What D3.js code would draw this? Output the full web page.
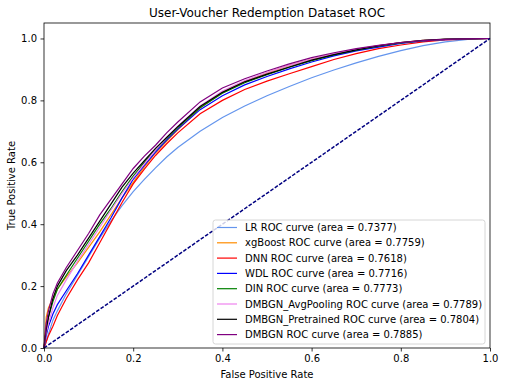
<!DOCTYPE html>
<html>
<head>
<meta charset="utf-8">
<script src="https://cdn.jsdelivr.net/npm/d3@7"></script>
<style>
  body { margin: 0; background: #fff; }
  svg text { font-family: "DejaVu Sans", sans-serif; fill: #000; }
</style>
</head>
<body>
<svg id="chart" width="505" height="387"></svg>
<script>
// false positive rate grid the curves were read at
const fprGrid = [0, 0.005, 0.01, 0.02, 0.03, 0.05, 0.075, 0.1, 0.125, 0.15, 0.175, 0.2, 0.225, 0.25, 0.275, 0.3,
  0.35, 0.4, 0.45, 0.5, 0.55, 0.6, 0.65, 0.7, 0.75, 0.8, 0.85, 0.9, 0.95, 1];

// true positive rates
const lrTpr = [0, 0.02, 0.045, 0.09, 0.12, 0.175, 0.235, 0.295, 0.355, 0.41, 0.46, 0.505, 0.545, 0.582, 0.617, 0.648,
  0.70, 0.745, 0.782, 0.815, 0.845, 0.873, 0.898, 0.921, 0.942, 0.961, 0.977, 0.989, 0.997, 1];
const xgbTpr = [0, 0.10, 0.13, 0.16, 0.19, 0.23, 0.275, 0.325, 0.375, 0.43, 0.485, 0.535, 0.585, 0.63, 0.668, 0.705,
  0.775, 0.826, 0.862, 0.889, 0.913, 0.933, 0.951, 0.965, 0.977, 0.987, 0.994, 0.997, 0.999, 1];
const dnnTpr = [0, 0.02, 0.04, 0.07, 0.105, 0.16, 0.22, 0.275, 0.34, 0.405, 0.47, 0.53, 0.578, 0.622, 0.66, 0.695,
  0.757, 0.80, 0.835, 0.862, 0.886, 0.909, 0.932, 0.951, 0.967, 0.979, 0.989, 0.995, 0.998, 1];
const wdlTpr = [0, 0.04, 0.07, 0.11, 0.14, 0.185, 0.24, 0.30, 0.36, 0.42, 0.485, 0.545, 0.59, 0.633, 0.672, 0.707,
  0.77, 0.815, 0.85, 0.877, 0.902, 0.924, 0.944, 0.96, 0.972, 0.984, 0.992, 0.996, 0.999, 1];
const dinTpr = [0, 0.06, 0.10, 0.15, 0.19, 0.235, 0.29, 0.345, 0.40, 0.45, 0.505, 0.555, 0.60, 0.64, 0.677, 0.712,
  0.776, 0.823, 0.857, 0.883, 0.907, 0.928, 0.947, 0.962, 0.975, 0.986, 0.993, 0.997, 0.999, 1];
const avgTpr = [0, 0.05, 0.08, 0.13, 0.17, 0.22, 0.28, 0.335, 0.39, 0.445, 0.50, 0.55, 0.595, 0.64, 0.68, 0.717,
  0.782, 0.83, 0.864, 0.89, 0.913, 0.933, 0.951, 0.965, 0.977, 0.987, 0.994, 0.997, 0.999, 1];
const preTpr = [0, 0.06, 0.10, 0.16, 0.20, 0.25, 0.30, 0.355, 0.41, 0.465, 0.52, 0.565, 0.605, 0.645, 0.68, 0.715,
  0.78, 0.826, 0.86, 0.885, 0.908, 0.93, 0.948, 0.963, 0.976, 0.987, 0.994, 0.998, 0.999, 1];
const dmbgnTpr = [0, 0.08, 0.12, 0.175, 0.21, 0.26, 0.315, 0.37, 0.43, 0.48, 0.53, 0.58, 0.62, 0.655, 0.695, 0.73,
  0.795, 0.84, 0.87, 0.895, 0.918, 0.938, 0.954, 0.967, 0.978, 0.987, 0.993, 0.997, 0.999, 1];

const labels = ["LR ROC curve (area = 0.7377)", "xgBoost ROC curve (area = 0.7759)", "DNN ROC curve (area = 0.7618)",
  "WDL ROC curve (area = 0.7716)", "DIN ROC curve (area = 0.7773)", "DMBGN_AvgPooling ROC curve (area = 0.7789)",
  "DMBGN_Pretrained ROC curve (area = 0.7804)", "DMBGN ROC curve (area = 0.7885)"];
const colors = ["cornflowerblue", "darkorange", "red", "blue", "green", "violet", "black", "purple"];
const tprs = [lrTpr, xgbTpr, dnnTpr, wdlTpr, dinTpr, avgTpr, preTpr, dmbgnTpr];
const ticks = [0, 0.2, 0.4, 0.6, 0.8, 1.0];

const svg = d3.select("#chart");
const margin = { left: 44, right: 15, top: 23, bottom: 39 };
const W = 505, H = 387;

const x = d3.scaleLinear().domain([0, 1]).range([margin.left, W - margin.right]);
const y = d3.scaleLinear().domain([0, 1.05]).range([H - margin.bottom, margin.top]);

const line = d3.line().x(d => x(d[0])).y(d => y(d[1]));

const plot = svg.append("g");

// curves
tprs.forEach((t, i) => {
  plot.append("path")
    .datum(fprGrid.map((f, j) => [f, t[j]]))
    .attr("d", line)
    .attr("fill", "none")
    .attr("stroke", colors[i])
    .attr("stroke-width", 1.2);
});

// chance line
plot.append("path")
  .datum([[0, 0], [1, 1]])
  .attr("d", line)
  .attr("fill", "none")
  .attr("stroke", "navy")
  .attr("stroke-width", 1.5)
  .attr("stroke-dasharray", "3.7,1.6");

// axes
const xAxis = svg.append("g")
  .attr("transform", `translate(0,${H - margin.bottom})`)
  .call(d3.axisBottom(x).tickValues(ticks).tickFormat(d3.format(".1f")).tickSize(3.5).tickPadding(3.5));
const yAxis = svg.append("g")
  .attr("transform", `translate(${margin.left},0)`)
  .call(d3.axisLeft(y).tickValues(ticks).tickFormat(d3.format(".1f")).tickSize(3.5).tickPadding(3.5));
[xAxis, yAxis].forEach(a => {
  a.select(".domain").remove();
  a.selectAll("text").style("font-size", "10px").style("font-family", "DejaVu Sans");
  a.selectAll("line").attr("stroke", "#000").attr("stroke-width", 0.8);
});

svg.append("rect")
  .attr("x", margin.left).attr("y", margin.top)
  .attr("width", W - margin.left - margin.right)
  .attr("height", H - margin.top - margin.bottom)
  .attr("fill", "none").attr("stroke", "#000").attr("stroke-width", 0.8);

// labels
svg.append("text").attr("x", x(0.5)).attr("y", 17).attr("text-anchor", "middle")
  .style("font-size", "12px").text("User-Voucher Redemption Dataset ROC");
svg.append("text").attr("x", x(0.5)).attr("y", 378).attr("text-anchor", "middle")
  .style("font-size", "10px").text("False Positive Rate");
svg.append("text").attr("transform", `translate(15,${y(0.525)}) rotate(-90)`).attr("text-anchor", "middle")
  .style("font-size", "10px").text("True Positive Rate");

// legend
const lg = svg.append("g");
lg.append("rect").attr("x", 213).attr("y", 220).attr("width", 272).attr("height", 124)
  .attr("rx", 2.5).attr("fill", "#fff").attr("fill-opacity", 0.8)
  .attr("stroke", "#ccc").attr("stroke-width", 0.8);
labels.forEach((l, i) => {
  const yy = 227.5 + i * 15.3;
  lg.append("line").attr("x1", 217).attr("x2", 237).attr("y1", yy).attr("y2", yy)
    .attr("stroke", colors[i]).attr("stroke-width", 1.2);
  lg.append("text").attr("x", 245).attr("y", yy).attr("dy", "0.35em")
    .style("font-size", "10px").text(l);
});
</script>
</body>
</html>
